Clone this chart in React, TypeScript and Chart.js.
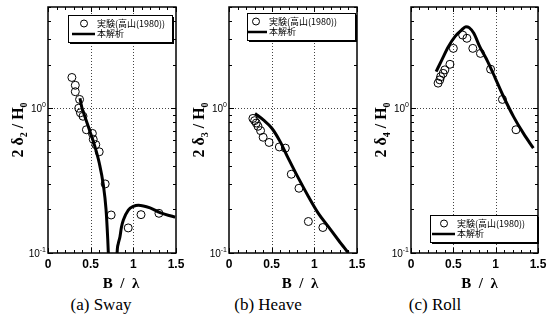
import React, { useEffect, useRef } from 'react';
import { Chart, registerables } from 'chart.js';
Chart.register(...registerables);

// ---- data ----
const swayExpB = [0.28, 0.32, 0.32, 0.37, 0.36, 0.38, 0.41, 0.45, 0.52, 0.53, 0.56, 0.60, 0.67, 0.74, 0.94, 1.09, 1.30];
const swayExpV = [1.63, 1.44, 1.30, 1.15, 1.00, 0.93, 0.88, 0.71, 0.67, 0.61, 0.56, 0.50, 0.30, 0.183, 0.149, 0.184, 0.188];
const swayCalcB = [0.375, 0.395, 0.434, 0.492, 0.551, 0.602, 0.649, 0.68, 0.70, 0.707, 0.714, null, 0.806, 0.81, 0.822, 0.844, 0.86, 0.883, 0.941, 1.0, 1.06, 1.196, 1.313, 1.442, 1.49];
const swayCalcV = [1.17, 1.02, 0.87, 0.69, 0.54, 0.415, 0.294, 0.20, 0.125, 0.1, 0.075, null, 0.075, 0.1, 0.115, 0.13, 0.15, 0.169, 0.198, 0.21, 0.214, 0.205, 0.19, 0.18, 0.177];

const heaveExpB = [0.28, 0.30, 0.32, 0.34, 0.37, 0.40, 0.47, 0.59, 0.66, 0.73, 0.82, 0.93, 1.10];
const heaveExpV = [0.85, 0.82, 0.79, 0.75, 0.70, 0.63, 0.58, 0.54, 0.53, 0.35, 0.28, 0.165, 0.15];
const heaveCalcB = [0.305, 0.402, 0.5, 0.598, 0.695, 0.812, 0.93, 1.047, 1.164, 1.281, 1.399];
const heaveCalcV = [0.92, 0.83, 0.73, 0.59, 0.45, 0.33, 0.246, 0.188, 0.152, 0.123, 0.1];

const rollExpB = [0.32, 0.34, 0.35, 0.38, 0.40, 0.46, 0.50, 0.61, 0.66, 0.73, 0.82, 0.94, 1.08, 1.24];
const rollExpV = [1.49, 1.57, 1.65, 1.74, 1.84, 2.01, 2.59, 3.2, 3.04, 2.59, 2.39, 1.86, 1.15, 0.71];
const rollCalcB = [0.297, 0.363, 0.441, 0.519, 0.598, 0.648, 0.687, 0.742, 0.812, 0.906, 0.996, 1.094, 1.211, 1.328, 1.445];
const rollCalcV = [1.79, 2.15, 2.66, 3.12, 3.47, 3.65, 3.6, 3.29, 2.66, 2.1, 1.61, 1.2, 0.875, 0.67, 0.53];

const xTickValues = [0, 0.5, 1, 1.5];
const xTickLabels = ['0', '0.5', '1', '1.5'];
const xMinorStep = 0.1;
const yTickValues = [0.1, 1];
const yTickBase = ['10', '10'];
const yTickExp = ['-1', '0'];
const yMinorValues = [0.2, 0.3, 0.4, 0.5, 0.6, 0.7, 0.8, 0.9, 2, 3, 4, 5];
const legendLabels = ['実験(高山(1980))', '本解析'];
const captions = ['(a) Sway', '(b) Heave', '(c) Roll'];
const ySubs = ['2', '3', '4'];
const xTitle = 'B  /  λ';

const X_MIN = 0, X_MAX = 1.5, Y_MIN = 0.1, Y_MAX = 5;

type PanelCfg = {
  left: number; width: number; plotLeft: number; padRight: number;
  sub: string; expB: number[]; expV: number[]; calcB: (number | null)[]; calcV: (number | null)[];
  legend: { dx: number; dy: number; fromBottom: boolean; w: number; textOff: number; lineStart: number };
  xTitleShift: number; caption: string; captionCenter: number;
};

const panels: PanelCfg[] = [
  { left: 0, width: 186, plotLeft: 48, padRight: 10, sub: ySubs[0], expB: swayExpB, expV: swayExpV, calcB: swayCalcB, calcV: swayCalcV,
    legend: { dx: 20, dy: 8, fromBottom: false, w: 104, textOff: 29, lineStart: 4 }, xTitleShift: 9, caption: captions[0], captionCenter: 101 },
  { left: 186, width: 186, plotLeft: 43, padRight: 15, sub: ySubs[1], expB: heaveExpB, expV: heaveExpV, calcB: heaveCalcB, calcV: heaveCalcV,
    legend: { dx: 18, dy: 6, fromBottom: false, w: 108, textOff: 22, lineStart: 1 }, xTitleShift: 7, caption: captions[1], captionCenter: 268 },
  { left: 372, width: 187, plotLeft: 39, padRight: 21, sub: ySubs[2], expB: rollExpB, expV: rollExpV, calcB: rollCalcB, calcV: rollCalcV,
    legend: { dx: 19, dy: 11, fromBottom: true, w: 107, textOff: 27, lineStart: 2 }, xTitleShift: 5, caption: captions[2], captionCenter: 435 },
];

function splitSegments(bs: (number | null)[], vs: (number | null)[]) {
  const segs: { x: number; y: number }[][] = [];
  let cur: { x: number; y: number }[] = [];
  bs.forEach((b, i) => {
    const v = vs[i];
    if (b === null || v === null) {
      if (cur.length) segs.push(cur);
      cur = [];
    } else cur.push({ x: b, y: v });
  });
  if (cur.length) segs.push(cur);
  return segs;
}

function makePlugin(cfg: PanelCfg) {
  return {
    id: 'customAxes',
    beforeDatasetsDraw(chart: any) {
      const { ctx, chartArea: a, scales } = chart;
      const xs = scales.x, ys = scales.y;
      ctx.save();
      ctx.strokeStyle = '#444';
      ctx.lineWidth = 1;
      ctx.setLineDash([1, 2]);
      [0.5, 1].forEach((v) => {
        const px = Math.round(xs.getPixelForValue(v)) + 0.5;
        ctx.beginPath(); ctx.moveTo(px, a.top); ctx.lineTo(px, a.bottom); ctx.stroke();
      });
      const py = Math.round(ys.getPixelForValue(1)) + 0.5;
      ctx.beginPath(); ctx.moveTo(a.left, py); ctx.lineTo(a.right, py); ctx.stroke();
      ctx.restore();
    },
    afterDatasetsDraw(chart: any) {
      const { ctx, chartArea: a, scales } = chart;
      const xs = scales.x, ys = scales.y;
      ctx.save();
      ctx.setLineDash([]);
      ctx.strokeStyle = '#000';
      // ticks
      ctx.lineWidth = 1;
      for (let v = X_MIN; v <= X_MAX + 1e-9; v += xMinorStep) {
        const major = Math.abs(v * 2 - Math.round(v * 2)) < 1e-6;
        const len = major ? 5 : 3;
        const px = Math.round(xs.getPixelForValue(v)) + 0.5;
        ctx.beginPath();
        ctx.moveTo(px, a.bottom); ctx.lineTo(px, a.bottom - len);
        ctx.moveTo(px, a.top); ctx.lineTo(px, a.top + len);
        ctx.stroke();
      }
      const yAll = [...yTickValues.map((v) => ({ v, len: 5 })), ...yMinorValues.map((v) => ({ v, len: 3 }))];
      yAll.forEach(({ v, len }) => {
        if (v < Y_MIN || v > Y_MAX) return;
        const py = Math.round(ys.getPixelForValue(v)) + 0.5;
        ctx.beginPath();
        ctx.moveTo(a.left, py); ctx.lineTo(a.left + len, py);
        ctx.moveTo(a.right, py); ctx.lineTo(a.right - len, py);
        ctx.stroke();
      });
      // frame
      ctx.lineWidth = 1.5;
      ctx.strokeRect(a.left, a.top, a.right - a.left, a.bottom - a.top);

      // x tick labels
      ctx.fillStyle = '#000';
      ctx.font = 'bold 12px "Liberation Sans", Arial, sans-serif';
      ctx.textAlign = 'center';
      ctx.textBaseline = 'middle';
      xTickValues.forEach((v, i) => {
        ctx.fillText(xTickLabels[i], xs.getPixelForValue(v), a.bottom + 12);
      });
      // y tick labels
      yTickValues.forEach((v, i) => {
        const py = ys.getPixelForValue(v);
        ctx.font = '7px "Liberation Sans", Arial, sans-serif';
        const ew = ctx.measureText(yTickExp[i]).width;
        const right = a.left - 2;
        ctx.textAlign = 'right';
        ctx.textBaseline = 'alphabetic';
        ctx.fillText(yTickExp[i], right, py - 1);
        ctx.font = '10px "Liberation Sans", Arial, sans-serif';
        ctx.fillText(yTickBase[i], right - ew, py + 4);
      });
      // x title
      ctx.font = 'bold 15px "Liberation Serif", "Times New Roman", serif';
      ctx.textAlign = 'center';
      ctx.textBaseline = 'middle';
      ctx.fillText(xTitle, (a.left + a.right) / 2 + cfg.xTitleShift, a.bottom + 31);
      // y title with subscripts
      const parts: { t: string; sub: boolean }[] = [
        { t: '2 δ', sub: false }, { t: cfg.sub, sub: true }, { t: ' / H', sub: false }, { t: '0', sub: true },
      ];
      const bigFont = 'bold 16px "Liberation Serif", "Times New Roman", serif';
      const smallFont = 'bold 10px "Liberation Serif", "Times New Roman", serif';
      let total = 0;
      parts.forEach((p) => { ctx.font = p.sub ? smallFont : bigFont; total += ctx.measureText(p.t).width; });
      ctx.translate(a.left - 30, (a.top + a.bottom) / 2);
      ctx.rotate(-Math.PI / 2);
      ctx.textAlign = 'left';
      ctx.textBaseline = 'alphabetic';
      let x = -total / 2;
      parts.forEach((p) => {
        ctx.font = p.sub ? smallFont : bigFont;
        ctx.fillText(p.t, x, p.sub ? 9 : 5);
        x += ctx.measureText(p.t).width;
      });
      ctx.setTransform(1, 0, 0, 1, 0, 0);

      // legend
      const L = cfg.legend;
      const bx = a.left + L.dx;
      const bh = 27;
      const by = L.fromBottom ? a.bottom - L.dy - bh : a.top + L.dy;
      ctx.fillStyle = '#fff';
      ctx.fillRect(bx, by, L.w, bh);
      ctx.fillStyle = '#000';
      ctx.fillRect(bx + 2, by + bh, L.w, 2);
      ctx.fillRect(bx + L.w, by + 2, 2, bh);
      ctx.lineWidth = 1;
      ctx.strokeRect(bx + 0.5, by + 0.5, L.w, bh);
      ctx.beginPath();
      ctx.arc(bx + L.textOff - 13, by + 8.5, 3.5, 0, Math.PI * 2);
      ctx.stroke();
      ctx.lineWidth = 2.5;
      ctx.beginPath();
      ctx.moveTo(bx + L.lineStart, by + 19);
      ctx.lineTo(bx + L.textOff - 2, by + 19);
      ctx.stroke();
      ctx.font = '9px "Noto Sans CJK JP", sans-serif';
      ctx.textAlign = 'left';
      ctx.textBaseline = 'middle';
      ctx.fillText(legendLabels[0], bx + L.textOff, by + 8.5);
      ctx.fillText(legendLabels[1], bx + L.textOff, by + 19);
      ctx.restore();
    },
  };
}

function Panel({ cfg }: { cfg: PanelCfg }) {
  const ref = useRef<HTMLCanvasElement>(null);
  useEffect(() => {
    if (!ref.current) return;
    const segs = splitSegments(cfg.calcB, cfg.calcV);
    const datasets: any[] = [
      {
        label: legendLabels[0],
        data: cfg.expB.map((b, i) => ({ x: b, y: cfg.expV[i] })),
        showLine: false,
        pointStyle: 'circle',
        pointRadius: 4,
        pointBorderWidth: 1,
        pointBorderColor: '#000',
        pointBackgroundColor: 'rgba(255,255,255,0)',
        borderColor: '#000',
      },
      ...segs.map((s) => ({
        label: legendLabels[1],
        data: s,
        showLine: true,
        pointRadius: 0,
        borderWidth: 3,
        borderColor: '#000',
        backgroundColor: '#000',
        cubicInterpolationMode: 'monotone',
        clip: 0,
      })),
    ];
    const chart = new Chart(ref.current, {
      type: 'scatter',
      data: { datasets },
      options: {
        animation: false,
        responsive: false,
        maintainAspectRatio: false,
        layout: { padding: { top: 7, right: cfg.padRight, left: 0, bottom: 0 } },
        plugins: { legend: { display: false }, tooltip: { enabled: false } },
        scales: {
          x: {
            type: 'linear', min: X_MIN, max: X_MAX,
            grid: { display: false }, border: { display: false }, ticks: { display: false },
            afterFit: (s: any) => { s.height = 37; },
          },
          y: {
            type: 'logarithmic', min: Y_MIN, max: Y_MAX,
            grid: { display: false }, border: { display: false }, ticks: { display: false },
            afterFit: (s: any) => { s.width = cfg.plotLeft; },
          },
        },
      } as any,
      plugins: [makePlugin(cfg)],
    });
    return () => chart.destroy();
  }, [cfg]);
  return (
    <canvas
      ref={ref}
      width={cfg.width}
      height={290}
      style={{ position: 'absolute', left: cfg.left, top: 0, width: cfg.width, height: 290, display: 'block' }}
    />
  );
}

export default function App() {
  return (
    <div style={{ position: 'fixed', left: 0, top: 0, width: 559, height: 331, background: '#fff', overflow: 'hidden' }}>
      {panels.map((p, i) => (
        <Panel key={i} cfg={p} />
      ))}
      {panels.map((p, i) => (
        <div
          key={'c' + i}
          style={{
            position: 'absolute', top: 294, left: p.captionCenter - 60, width: 120, textAlign: 'center',
            font: '17px "Liberation Serif", "Times New Roman", serif', color: '#000', lineHeight: '22px',
          }}
        >
          {p.caption}
        </div>
      ))}
    </div>
  );
}
